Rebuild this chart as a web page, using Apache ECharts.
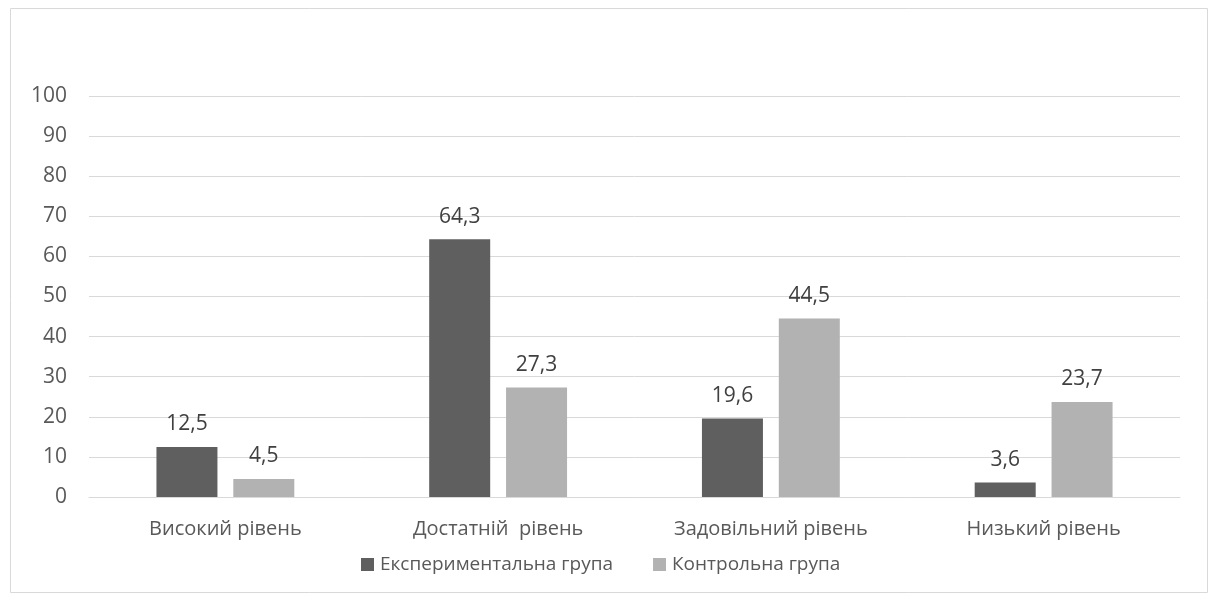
<!DOCTYPE html>
<html>
<head>
<meta charset="utf-8">
<script src="https://cdn.jsdelivr.net/npm/echarts@6/dist/echarts.min.js"></script>
<style>
  html, body { margin: 0; padding: 0; background: #ffffff; }
  #chart { width: 1217px; height: 600px; }
</style>
</head>
<body>
<div id="chart"></div>
<script>
// Рівні сформованості та частки (%) у двох групах
const categories = ['Високий рівень', 'Достатній  рівень', 'Задовільний рівень', 'Низький рівень'];
const experimentalGroup = [12.5, 64.3, 19.6, 3.6];
const controlGroup = [4.5, 27.3, 44.5, 23.7];
const seriesNames = ['Експериментальна група', 'Контрольна група'];

const textColor = '#595959';
const fontFamily = '"Open Sans", "Noto Sans", sans-serif';

const chart = echarts.init(document.getElementById('chart'), null, { renderer: 'canvas' });

const labelOpt = {
  show: true,
  position: 'top',
  distance: 12,
  color: '#404040',
  fontSize: 21,
  fontFamily: fontFamily,
  formatter: p => String(p.value).replace('.', ',')
};

chart.setOption({
  animation: false,
  backgroundColor: '#ffffff',
  graphic: [{
    type: 'rect',
    shape: { x: 10.5, y: 8.5, width: 1197, height: 584 },
    style: { fill: 'none', stroke: '#d9d9d9', lineWidth: 1 },
    silent: true,
    z: -10
  }],
  grid: { left: 89, right: 37, top: 96, bottom: 103, containLabel: false },
  legend: {
    top: 550,
    left: 356,
    itemWidth: 13,
    itemHeight: 13,
    itemGap: 40,
    icon: 'rect',
    textStyle: { color: textColor, fontSize: 19, fontFamily: fontFamily, padding: [0, 0, 0, 1] },
    data: seriesNames
  },
  xAxis: {
    type: 'category',
    data: categories,
    axisLine: { show: true, lineStyle: { color: '#d9d9d9', width: 1 } },
    axisTick: { show: false },
    axisLabel: { color: textColor, fontSize: 20, fontFamily: fontFamily, margin: 22 }
  },
  yAxis: {
    type: 'value',
    min: 0,
    max: 100,
    interval: 10,
    axisLine: { show: false },
    axisTick: { show: false },
    splitLine: { lineStyle: { color: '#d9d9d9', width: 1 } },
    axisLabel: { color: textColor, fontSize: 21, fontFamily: fontFamily, margin: 22 }
  },
  series: [
    {
      name: seriesNames[0],
      type: 'bar',
      data: experimentalGroup,
      barWidth: 61,
      barGap: '26%',
      itemStyle: { color: '#5f5f5f' },
      label: labelOpt
    },
    {
      name: seriesNames[1],
      type: 'bar',
      data: controlGroup,
      barWidth: 61,
      itemStyle: { color: '#b2b2b2' },
      label: labelOpt
    }
  ]
});
</script>
</body>
</html>
